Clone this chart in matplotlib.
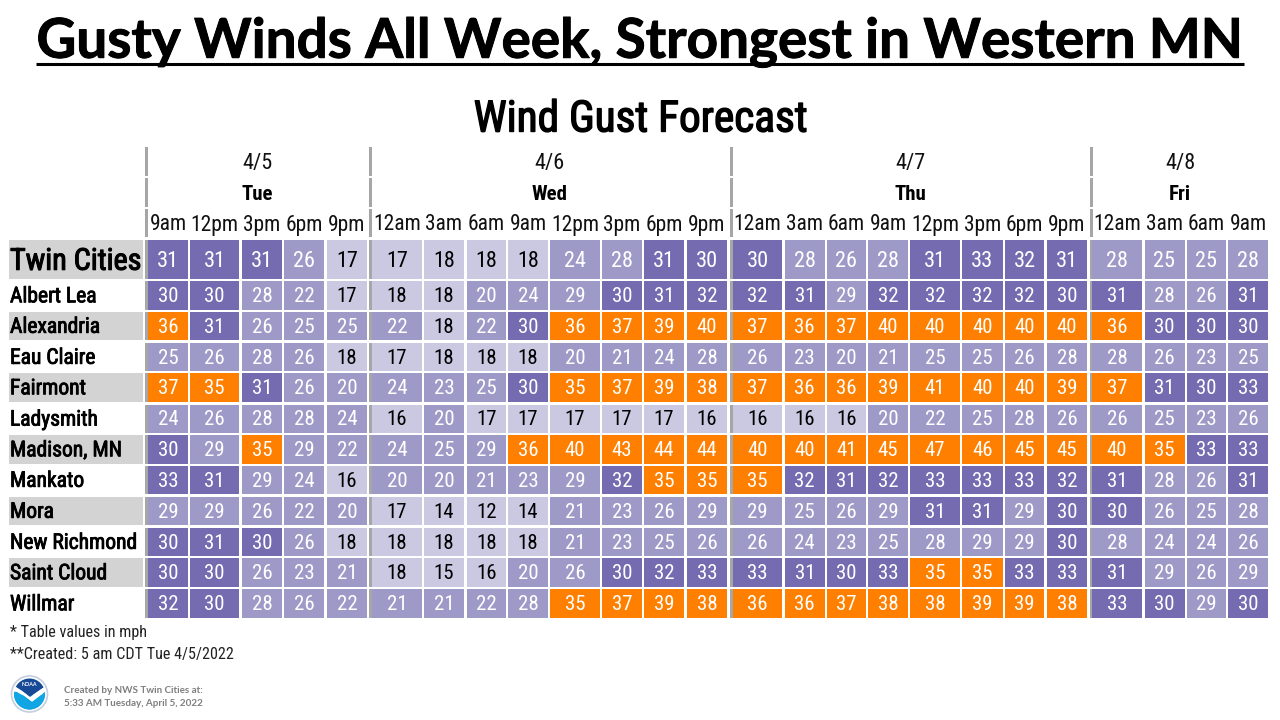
import matplotlib
matplotlib.use("Agg")
import matplotlib.pyplot as plt
import matplotlib.patheffects as pe
from matplotlib.patches import Rectangle, Circle, Polygon

# ---- data ----
dates = ["4/5", "4/6", "4/7", "4/8"]
days = ["Tue", "Wed", "Thu", "Fri"]
hours = ["9am", "12pm", "3pm", "6pm", "9pm",
         "12am", "3am", "6am", "9am", "12pm", "3pm", "6pm", "9pm",
         "12am", "3am", "6am", "9am", "12pm", "3pm", "6pm", "9pm",
         "12am", "3am", "6am", "9am"]
day_sizes = [5, 8, 8, 4]
cities = ["Twin Cities", "Albert Lea", "Alexandria", "Eau Claire", "Fairmont", "Ladysmith",
          "Madison, MN", "Mankato", "Mora", "New Richmond", "Saint Cloud", "Willmar"]
twin_cities = [31,31,31,26,17, 17,18,18,18,24,28,31,30, 30,28,26,28,31,33,32,31, 28,25,25,28]
albert_lea = [30,30,28,22,17, 18,18,20,24,29,30,31,32, 32,31,29,32,32,32,32,30, 31,28,26,31]
alexandria = [36,31,26,25,25, 22,18,22,30,36,37,39,40, 37,36,37,40,40,40,40,40, 36,30,30,30]
eau_claire = [25,26,28,26,18, 17,18,18,18,20,21,24,28, 26,23,20,21,25,25,26,28, 28,26,23,25]
fairmont = [37,35,31,26,20, 24,23,25,30,35,37,39,38, 37,36,36,39,41,40,40,39, 37,31,30,33]
ladysmith = [24,26,28,28,24, 16,20,17,17,17,17,17,16, 16,16,16,20,22,25,28,26, 26,25,23,26]
madison = [30,29,35,29,22, 24,25,29,36,40,43,44,44, 40,40,41,45,47,46,45,45, 40,35,33,33]
mankato = [33,31,29,24,16, 20,20,21,23,29,32,35,35, 35,32,31,32,33,33,33,32, 31,28,26,31]
mora = [29,29,26,22,20, 17,14,12,14,21,23,26,29, 29,25,26,29,31,31,29,30, 30,26,25,28]
new_richmond = [30,31,30,26,18, 18,18,18,18,21,23,25,26, 26,24,23,25,28,29,29,30, 28,24,24,26]
saint_cloud = [30,30,26,23,21, 18,15,16,20,26,30,32,33, 33,31,30,33,35,35,33,33, 31,29,26,29]
willmar = [32,30,28,26,22, 21,21,22,28,35,37,39,38, 36,36,37,38,38,39,39,38, 33,30,29,30]
values = [twin_cities, albert_lea, alexandria, eau_claire, fairmont, ladysmith,
          madison, mankato, mora, new_richmond, saint_cloud, willmar]

# ---- layout (pixels) ----
col_left = [148,190,242,284,327, 372,424,467,508,550,602,644,687,
            733,784.5,827,868,910,962,1005,1047, 1092,1144.5,1187,1228]
col_right = [188,239,282,324,367, 422,464,506,548,600,642,684,727,
             782,825,866,908,960,1002.5,1044,1087, 1142,1184.5,1226,1268]
row_top = [239.5,281,312,343,373,404.5,435,466,497,528,558,589]
row_bot = [279,310,340,371,402,433,464,494,525,556,587,618]
sep_left = [144.5, 369, 729.5, 1089.5]
sep_w = 3.2
header_rows = [(147.3,175.7), (178,206.7), (209,237.3)]

COND = ["Roboto Condensed", "Roboto"]
LIGHT, MID, DARK, ORANGE = "#CBC9E2", "#9E9AC8", "#756BB1", "#FF7F00"

def cell_color(v):
    if v >= 35: return ORANGE
    if v >= 30: return DARK
    if v >= 20: return MID
    return LIGHT

fig = plt.figure(figsize=(12.8, 7.2), dpi=100, facecolor="white")
ax = fig.add_axes([0, 0, 1, 1])
ax.set_xlim(0, 1280)
ax.set_ylim(720, 0)
ax.axis("off")

# titles
t = ax.text(640, 42, "Gusty Winds All Week, Strongest in Western MN", family="Lato", weight="bold",
            fontsize=39.5, ha="center", va="center", color="black")
t.set_path_effects([pe.withStroke(linewidth=0.7, foreground="black")])
ax.plot([36, 1244], [63.5, 63.5], color="black", lw=2.2, solid_capstyle="butt")
t2 = ax.text(641, 120, "Wind Gust Forecast", family=COND, fontsize=31.2,
             ha="center", va="center", color="black")
t2.set_path_effects([pe.withStroke(linewidth=1.0, foreground="black")])

# header separators and labels
start = 0
for d, n in enumerate(day_sizes):
    for y0, y1 in header_rows:
        ax.add_patch(Rectangle((sep_left[d], y0), sep_w, y1 - y0, fc="#A6A6A6", ec="none"))
    cx = (col_left[start] + col_right[start + n - 1]) / 2
    ax.text(cx, 163, dates[d], family=COND, fontsize=16, ha="center", va="center", color="#111111")
    ax.text(cx, 194.5, days[d], family=COND, weight="bold", fontsize=15, ha="center", va="center", color="black")
    start += n

for j, h in enumerate(hours):
    ax.text((col_left[j] + col_right[j]) / 2, 225, h, family=COND, fontsize=15.5,
            ha="center", va="center", color="#111111")

# table rows
for i, (city, row) in enumerate(zip(cities, values)):
    top, bot = row_top[i], row_bot[i]
    h = bot - top
    big = i == 0
    if i % 2 == 0:
        ax.add_patch(Rectangle((8.5, top), 134, h, fc="#D3D3D3", ec="none"))
    label = ax.text(10, (top + bot) / 2 + (2.5 if big else 1.3), city, family=COND,
                    fontsize=21.7 if big else 15.5, ha="left", va="center", color="black")
    label.set_path_effects([pe.withStroke(linewidth=0.8 if big else 0.6, foreground="black")])
    for x in sep_left:
        ax.add_patch(Rectangle((x, top), sep_w, h, fc="#A6A6A6", ec="none"))
    for j, v in enumerate(row):
        ax.add_patch(Rectangle((col_left[j], top), col_right[j] - col_left[j], h,
                               fc=cell_color(v), ec="none"))
        ax.text((col_left[j] + col_right[j]) / 2, (top + bot) / 2 + (2.0 if big else 1.2), str(v),
                family=COND, fontsize=16 if big else 15, ha="center", va="center",
                color="black" if v < 20 else "white")

# footnotes
ax.text(10, 632, "* Table values in mph", family=COND, fontsize=11.6, ha="left", va="center", color="#222222")
ax.text(10, 654, "**Created: 5 am CDT Tue 4/5/2022", family=COND, fontsize=11.6, ha="left", va="center", color="#222222")
ax.text(64, 690.5, "Created by NWS Twin Cities at:", family="Lato", weight="bold", fontsize=7.1,
        ha="left", va="center", color="#7F7F7F")
ax.text(64, 703.5, "5:33 AM Tuesday, April 5, 2022", family="Lato", weight="bold", fontsize=7.1,
        ha="left", va="center", color="#7F7F7F")

# NOAA-style emblem
cx0, cy0 = 29.5, 694
ax.add_patch(Circle((cx0, cy0), 18, fc="white", ec="#C3CFE0", lw=1.2))
clip = Circle((cx0, cy0), 15.5, transform=ax.transData)
for pts, col in [
    ([(8, 670), (52, 670), (52, 695), (8, 695)], "#FFFFFF"),
    ([(8, 695), (52, 695), (52, 716), (8, 716)], "#12A5E4"),
    ([(8, 670), (52, 670), (46, 686), (40, 690), (30, 697), (22, 691), (14, 686)], "#174A96"),
    ([(10, 684), (16, 687), (22, 691), (30, 697), (40, 690), (46, 686), (50, 682),
      (47, 690), (40, 696), (32, 702), (24, 696), (17, 692), (11, 692)], "#FFFFFF"),
    ([(10, 691), (17, 692), (24, 696), (32, 702), (40, 696), (47, 690), (50, 695), (50, 716), (10, 716)], "#12A5E4"),
]:
    p = Polygon(pts, fc=col, ec="none")
    ax.add_patch(p)
    p.set_clip_path(clip)
ax.text(cx0, 685, "NOAA", family="Lato", weight="bold", fontsize=3.8, color="white", ha="center", va="center")

fig.savefig("out.png", dpi=100)
